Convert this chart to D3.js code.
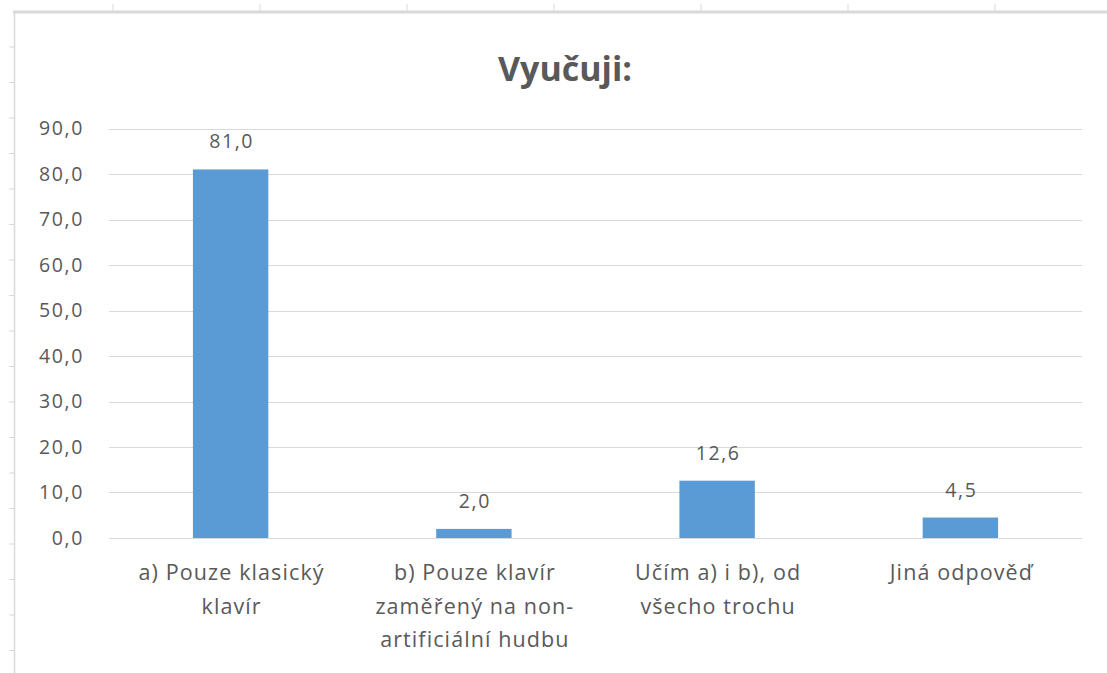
<!DOCTYPE html>
<html>
<head>
<meta charset="utf-8">
<script src="https://cdn.jsdelivr.net/npm/d3@7"></script>
<style>
  html, body { margin: 0; padding: 0; background: #fff; }
  svg { display: block; }
  text { font-family: "Open Sans", sans-serif; fill: #595959; }
</style>
</head>
<body>
<svg id="chart" width="1107" height="673"></svg>
<script>
const title = "Vyučuji:";
const categories = ["a) Pouze klasický klavír", "b) Pouze klavír zaměřený na non-artificiální hudbu", "Učím a) i b), od všecho trochu", "Jiná odpověď"];
const categoryLines = [
  ["a) Pouze klasický", "klavír"],
  ["b) Pouze klavír", "zaměřený na non-", "artificiální hudbu"],
  ["Učím a) i b), od", "všecho trochu"],
  ["Jiná odpověď"]
];
const values = [81.0, 2.0, 12.6, 4.5];
const yTicks = [0, 10, 20, 30, 40, 50, 60, 70, 80, 90];

const fmt = v => v.toFixed(1).replace(".", ",");

const svg = d3.select("#chart");
const W = 1107, H = 673;
const plot = { left: 109, right: 1082, top: 128.5, bottom: 538 };

// spreadsheet frame artifacts
const frame = svg.append("g");
frame.append("rect").attr("x", 0).attr("y", 0).attr("width", W).attr("height", H).attr("fill", "#fff");
const rulerX = d3.range(0, 7).map(i => 113 + 147 * i);
frame.selectAll("line.rt").data(rulerX).join("line")
  .attr("x1", d => d).attr("x2", d => d).attr("y1", 4).attr("y2", 11)
  .attr("stroke", "#d9d9d9").attr("stroke-width", 1);
const rulerY = d3.range(0, 18).map(i => 47 + 35.5 * i);
frame.selectAll("line.lt").data(rulerY).join("line")
  .attr("x1", 9).attr("x2", 14).attr("y1", d => d).attr("y2", d => d)
  .attr("stroke", "#d9d9d9").attr("stroke-width", 1);
frame.append("line").attr("x1", 13).attr("x2", W).attr("y1", 12).attr("y2", 12)
  .attr("stroke", "#d9d9d9").attr("stroke-width", 3);
frame.append("line").attr("x1", 14.5).attr("x2", 14.5).attr("y1", 12).attr("y2", H)
  .attr("stroke", "#d9d9d9").attr("stroke-width", 1.5);

const x = d3.scaleBand().domain(categories).range([plot.left, plot.right])
  .paddingInner(0.69).paddingOuter(0.345);
const y = d3.scaleLinear().domain([0, 90]).range([plot.bottom, plot.top]);

// gridlines
svg.append("g").selectAll("line").data(yTicks).join("line")
  .attr("x1", plot.left).attr("x2", plot.right)
  .attr("y1", d => Math.round(y(d)) + 0.5).attr("y2", d => Math.round(y(d)) + 0.5)
  .attr("stroke", "#d9d9d9").attr("stroke-width", 1);

// y axis
const yAxis = d3.axisLeft(y).tickValues(yTicks).tickFormat(fmt).tickSize(0).tickPadding(0);
const ya = svg.append("g").attr("transform", `translate(84,0)`).call(yAxis);
ya.select(".domain").remove();
ya.selectAll("text").attr("font-size", 19.5).attr("fill", "#595959")
  .style("font-family", '"Open Sans", sans-serif').attr("letter-spacing", "1.6px");

// bars
svg.append("g").selectAll("rect").data(values).join("rect")
  .attr("x", (d, i) => x(categories[i]))
  .attr("width", x.bandwidth())
  .attr("y", d => y(d))
  .attr("height", d => y(0) - y(d))
  .attr("fill", "#5b9bd5");

// value labels
svg.append("g").selectAll("text").data(values).join("text")
  .attr("x", (d, i) => x(categories[i]) + x.bandwidth() / 2 + 1)
  .attr("y", d => y(d) - 21)
  .attr("text-anchor", "middle")
  .attr("font-size", 19.5).attr("letter-spacing", "1.6px")
  .attr("fill", "#404040")
  .text(fmt);

// category labels
const xl = svg.append("g");
categories.forEach((c, i) => {
  const cx = x(c) + x.bandwidth() / 2 + 1;
  const t = xl.append("text")
    .attr("x", cx)
    .attr("y", 580)
    .attr("text-anchor", "middle")
    .attr("font-size", 21.5).attr("letter-spacing", "1.1px");
  categoryLines[i].forEach((ln, j) => {
    t.append("tspan").attr("x", cx).attr("y", 580 + j * 33.5).text(ln);
  });
});

// title
svg.append("text").attr("x", 565).attr("y", 81)
  .attr("text-anchor", "middle").attr("font-size", 34).attr("font-weight", "bold")
  .attr("fill", "#595959")
  .text(title);
</script>
</body>
</html>
